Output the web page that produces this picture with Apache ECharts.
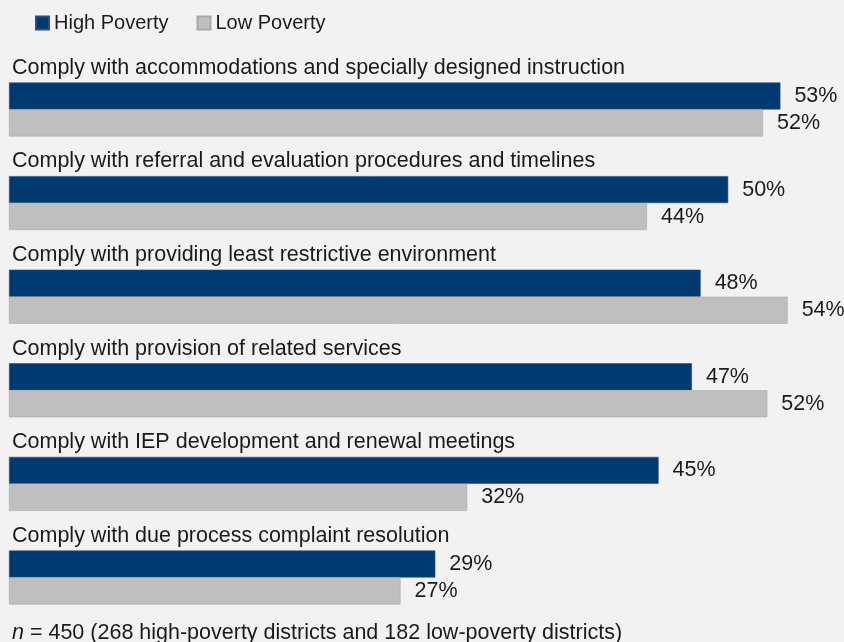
<!DOCTYPE html>
<html>
<head>
<meta charset="utf-8">
<script src="https://cdn.jsdelivr.net/npm/echarts@6/dist/echarts.min.js"></script>
<style>
html,body{margin:0;padding:0;background:#f2f2f2;}
#chart{width:844px;height:642px;}
</style>
</head>
<body>
<div id="chart"></div>
<script>
const categories = [
  'Comply with accommodations and specially designed instruction',
  'Comply with referral and evaluation procedures and timelines',
  'Comply with providing least restrictive environment',
  'Comply with provision of related services',
  'Comply with IEP development and renewal meetings',
  'Comply with due process complaint resolution'
];
const seriesNames = ['High Poverty', 'Low Poverty'];
// values (labels show the rounded percent)
const highPoverty = [53.2, 49.6, 47.7, 47.1, 44.8, 29.4];
const lowPoverty = [52.0, 44.0, 53.7, 52.3, 31.6, 27.0];
const footnote = '{i|n} = 450 (268 high-poverty districts and 182 low-poverty districts)';

const FONT = "'Liberation Sans', Arial, sans-serif";
const chart = echarts.init(document.getElementById('chart'));
const labelCfg = {
  show: true, position: 'right', distance: 14,
  formatter: p => Math.round(p.value) + '%',
  fontFamily: FONT, fontSize: 21.5, color: '#1a1a1a'
};
chart.setOption({
  backgroundColor: '#f2f2f2',
  animation: false,
  legend: {
    left: 30, top: 8, itemWidth: 13, itemHeight: 13, itemGap: 28,
    icon: 'rect',
    textStyle: { fontFamily: FONT, fontSize: 20, color: '#1a1a1a' },
    data: seriesNames
  },
  title: {
    text: footnote, left: 7, top: 617,
    textStyle: {
      fontFamily: FONT, fontSize: 21.5, fontWeight: 'normal', color: '#1a1a1a',
      rich: { i: { fontFamily: FONT, fontSize: 21.5, fontStyle: 'italic', color: '#1a1a1a' } }
    }
  },
  grid: { left: 9, right: 37.5, top: 62.7, bottom: 17.7, containLabel: false },
  xAxis: {
    type: 'value', min: 0, max: 55, show: false
  },
  yAxis: {
    type: 'category', data: categories, inverse: true,
    axisLine: { show: false }, axisTick: { show: false },
    axisLabel: {
      inside: true, margin: 3, fontFamily: FONT, fontSize: 21.5, color: '#1a1a1a',
      verticalAlign: 'middle', lineHeight: 27.7,
      interval: 0, showMinLabel: true, showMaxLabel: true, hideOverlap: false,
      formatter: v => v + '\n \n \n '
    }
  },
  series: [
    {
      name: seriesNames[0], type: 'bar', data: highPoverty, barWidth: 27, barGap: '0%',
      itemStyle: { color: '#003a70', borderColor: '#2a4f7a', borderWidth: 0.6 },
      label: labelCfg
    },
    {
      name: seriesNames[1], type: 'bar', data: lowPoverty, barWidth: 27, barGap: '0%',
      itemStyle: { color: '#bfbfbf', borderColor: '#a9a9a9', borderWidth: 0.6 },
      label: labelCfg
    }
  ]
});
</script>
</body>
</html>
